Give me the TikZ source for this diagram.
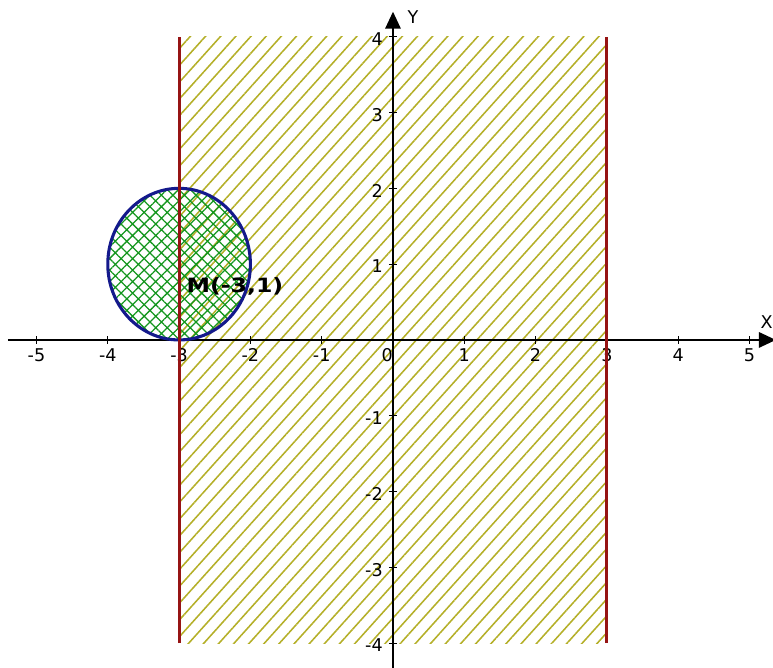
\documentclass[tikz,border=0pt]{standalone}
\usepackage{fontspec}
\setmainfont{DejaVu Sans}
\newfontfamily\etichetta[FakeStretch=1.2]{DejaVu Sans}
\usetikzlibrary{arrows.meta,patterns.meta}

\definecolor{rosso}{RGB}{150,20,20}
\definecolor{blu}{RGB}{20,25,140}
\definecolor{oliva}{RGB}{180,175,40}
\definecolor{verde}{RGB}{20,150,30}

\begin{document}
\begin{tikzpicture}[x = 1.7825cm, y = 1.895cm,
    font = \fontsize{12.5}{14}\selectfont,
    asse/.style = {line width=1pt, -{Triangle[width=11pt,length=12pt]}},
    tacca/.style = {line width=0.8pt}]

    \useasboundingbox (-5.512,-4.327) rectangle (5.330,4.485);

    % Striscia -3 < x < 3
    \fill[pattern={Lines[angle=48,distance=8pt,line width=1.1pt]}, pattern color=oliva]
        (-3,-4) rectangle (3,4);

    % Cerchio di centro M(-3,1) e raggio 1
    \fill[pattern={Hatch[angle=45,distance=5.8pt,line width=0.9pt]}, pattern color=verde]
        (-3,1) circle (1);

    % Assi
    \coordinate (xmin) at (-5.40,0);
    \coordinate (xmax) at (5.37,0);
    \coordinate (ymin) at (0,-4.40);
    \coordinate (ymax) at (0,4.33);
    \draw[asse] (xmin) -- (xmax);
    \draw[asse] (ymin) -- (ymax);
    \node[anchor=east, inner sep=0pt] (lx) at (5.33,0.24) {X};
    \node[anchor=west, inner sep=0pt] (ly) at (0.20,4.26) {Y};

    % Tacche e valori
    \foreach \x in {-5,...,-1,1,2,...,5} {
        \draw[tacca] (\x,-0.053) -- (\x,0.053);
        \node[anchor=north, inner sep=1pt] (tx\x) at (\x,-0.09) {\x};
    }
    \node[anchor=north east, inner sep=1pt] (t0) at (0.02,-0.09) {0};
    \foreach \y in {-4,...,-1,1,2,...,4} {
        \draw[tacca] (-0.057,\y) -- (0.057,\y);
        \node[anchor=east, inner sep=1pt] (ty\y) at (-0.12,\y-0.03) {\y};
    }

    % Bordo del cerchio
    \draw[blu, line width=2.2pt] (-3,1) circle (1);

    % Rette x = -3 e x = 3
    \draw[rosso, line width=2pt] (-3,-4) -- (-3,4);
    \draw[rosso, line width=2pt] (3,-4) -- (3,4);

    % Centro
    \node[anchor=west, inner sep=0pt, font=\etichetta\bfseries\fontsize{14}{16}\selectfont]
        (M) at (-2.90,0.70) {M(-3,1)};

\end{tikzpicture}
\end{document}
